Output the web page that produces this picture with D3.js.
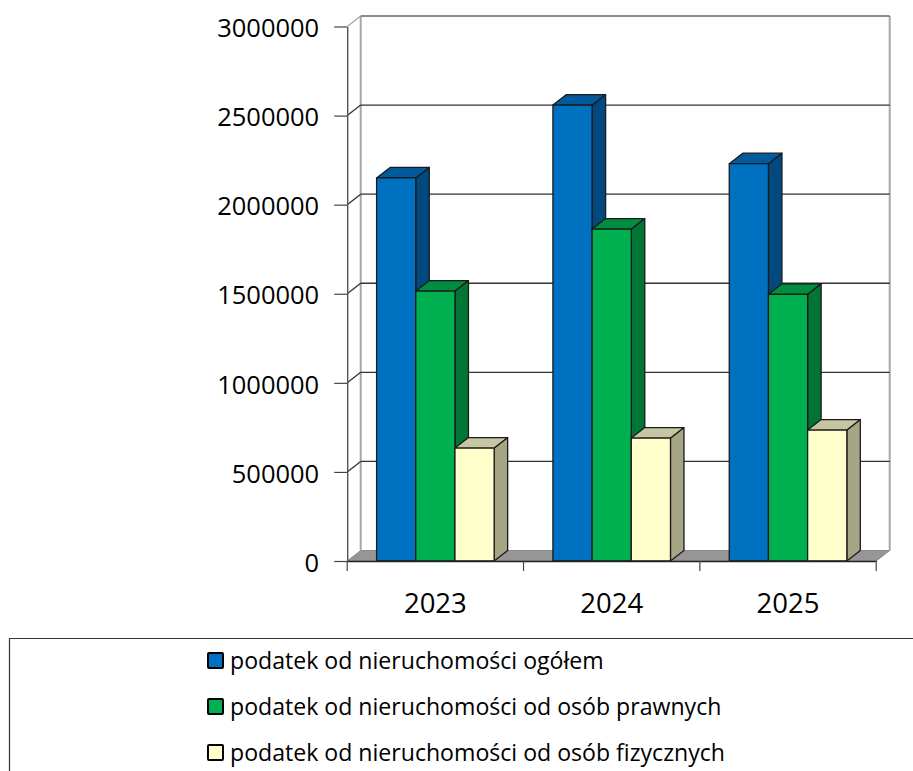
<!DOCTYPE html>
<html><head><meta charset="utf-8">
<script src="https://cdnjs.cloudflare.com/ajax/libs/d3/7.8.5/d3.min.js"></script>
<style>html,body{margin:0;padding:0;background:#fff;overflow:hidden}svg{display:block}</style>
</head><body>
<svg id="c" width="913" height="771"></svg>
<script>
const categories = ["2023","2024","2025"];
const seriesNames = ["podatek od nieruchomości ogółem","podatek od nieruchomości od osób prawnych","podatek od nieruchomości od osób fizycznych"];
const ogolem = [2150000,2559000,2230000];
const prawne = [1515000,1863000,1497000];
const fizyczne = [634000,690000,735000];
const yTicks = [0,500000,1000000,1500000,2000000,2500000,3000000];
const frontColors = ["#0070c0","#00b050","#ffffcc"];
const topColors = ["#005a9b","#008d40","#c6c6a3"];
const sideColors = ["#004a80","#007535","#a6a686"];

const series = [ogolem,prawne,fizyczne];
const svg = d3.select("#c");
const font = "'Open Sans',sans-serif";
const dx = 13.5, dy = -10.5;
const x = d3.scaleBand().domain(categories).range([347.2,876.2]);
const bar = x.bandwidth()/4.5;
const y = d3.scaleLinear().domain([0,3000000]).range([561,26.5]);
const x0=x.range()[0], x1=x.range()[1];

svg.append("path").attr("d",`M${x0},${y(0)}L${x0+dx},${y(0)+dy}H${x1+dx}L${x1},${y(0)}Z`).attr("fill","#969696").attr("stroke","#8a8a8a");
svg.append("line").attr("x1",x0+dx).attr("x2",x0+dx).attr("y1",y(3000000)+dy).attr("y2",y(0)+dy).attr("stroke","#a6a6a6").attr("stroke-width",2);
svg.append("line").attr("x1",x1+dx).attr("x2",x1+dx).attr("y1",y(3000000)+dy).attr("y2",y(0)+dy).attr("stroke","#a6a6a6").attr("stroke-width",2);
yTicks.filter(t=>t>0).forEach(t=>{
  const top=t===3000000;
  svg.append("path").attr("d",`M${x0},${y(t)}L${x0+dx},${y(t)+dy}`).attr("fill","none").attr("stroke",top?"#a6a6a6":"#333").attr("stroke-width",1.3);
  svg.append("line").attr("x1",x0+dx).attr("x2",x1+dx).attr("y1",y(t)+dy).attr("y2",y(t)+dy).attr("stroke",top?"#666":"#333").attr("stroke-width",1.4);
});

const yAxis = d3.axisLeft(y).tickValues(yTicks).tickSize(13).tickSizeOuter(0).tickPadding(15).tickFormat(d3.format("d"));
const gy = svg.append("g").attr("transform",`translate(${x0},0)`).call(yAxis);
gy.select(".domain").attr("stroke","#555").attr("stroke-width",1.4);
gy.selectAll("line").attr("stroke","#444").attr("stroke-width",1.2);
gy.selectAll("text").attr("font-family",font).attr("font-size",25.5).attr("fill","#000").attr("dy","0.4em");

const bx = (gi,si)=>x(categories[gi])+bar*0.75+si*bar;
categories.forEach((c,gi)=>{
  series.forEach((s,si)=>{
    const g = svg.append("g").attr("stroke","#1a1a1a").attr("stroke-width",1.3).attr("stroke-linejoin","round");
    const l=bx(gi,si), r=l+bar, t=y(s[gi]), b=y(0);
    g.append("path").attr("d",`M${r},${t}L${r+dx},${t+dy}V${b+dy}L${r},${b}Z`).attr("fill",sideColors[si]);
    g.append("path").attr("d",`M${l},${t}L${l+dx},${t+dy}H${r+dx}L${r},${t}Z`).attr("fill",topColors[si]);
    g.append("rect").attr("x",l).attr("y",t).attr("width",bar).attr("height",b-t).attr("fill",frontColors[si]);
  });
});

const xAxis = d3.axisBottom(x).tickSize(0).tickPadding(32);
const gx = svg.append("g").attr("transform",`translate(0,${y(0)})`).call(xAxis);
gx.select(".domain").attr("stroke","#222").attr("stroke-width",1.4);
gx.selectAll("text").attr("font-family",font).attr("font-size",27.5).attr("fill","#000");
[0,1,2,3].forEach(i=>{
  const p = i<3? x(categories[i]) : x1;
  gx.append("line").attr("x1",p).attr("x2",p).attr("y1",0).attr("y2",10).attr("stroke","#444").attr("stroke-width",1.2);
});

svg.append("path").attr("d","M9.5,771V638.5H913").attr("fill","none").attr("stroke","#333").attr("stroke-width",1.2);
const legendY = d3.scalePoint().domain(seriesNames).range([661,753]);
seriesNames.forEach((n,i)=>{
  const g = svg.append("g").attr("transform",`translate(0,${legendY(n)})`);
  g.append("rect").attr("x",208).attr("y",-8).attr("width",15).attr("height",15).attr("rx",1).attr("fill",frontColors[i]).attr("stroke","#000").attr("stroke-width",2);
  g.append("text").attr("x",230).attr("y",8).attr("font-family",font).attr("font-size",23.1).attr("fill","#000").text(n);
});
</script>
</body></html>
